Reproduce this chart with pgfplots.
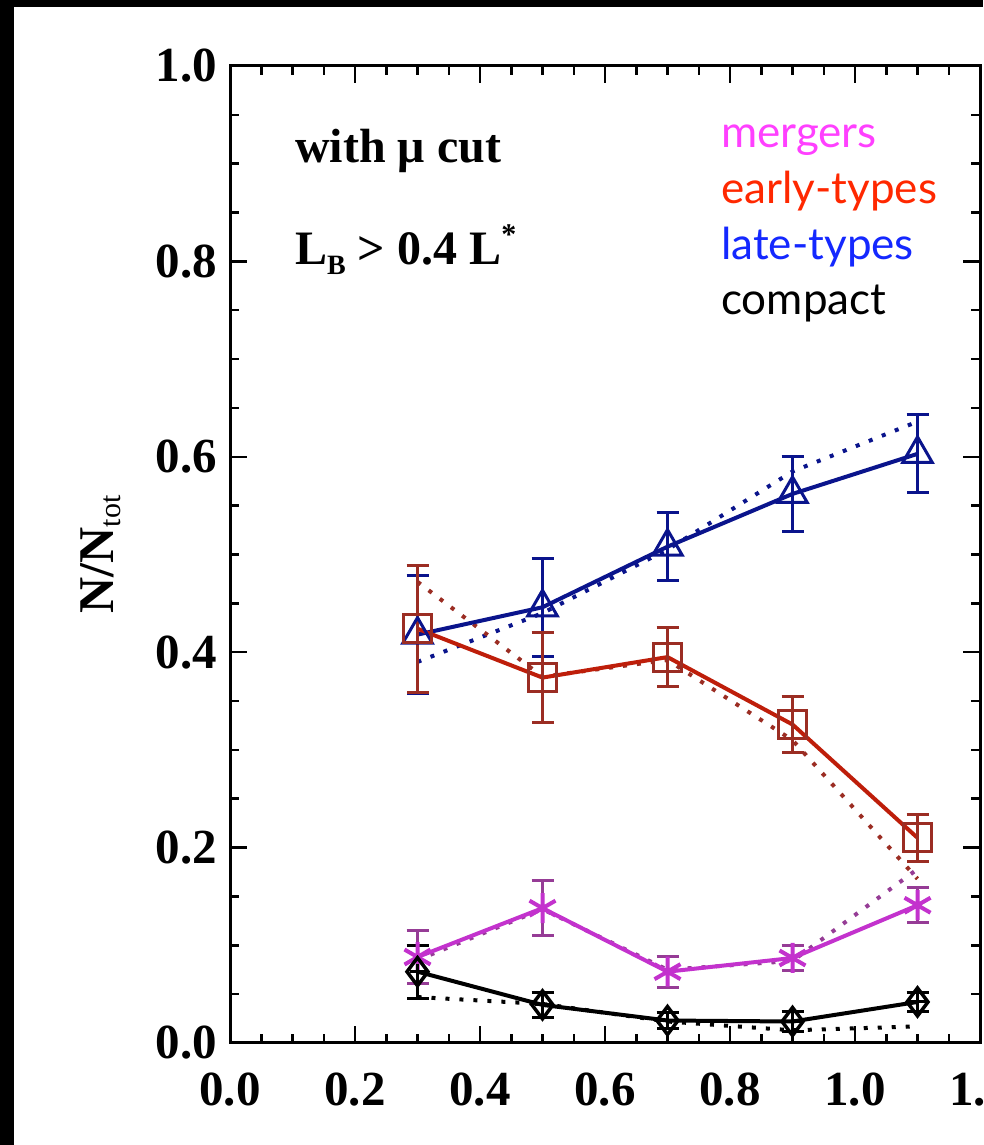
\documentclass[border=0pt]{standalone}
\usepackage{fontspec}
\setmainfont{Liberation Serif}
\newfontfamily\lato{Lato}
\usepackage{pgfplots}
\pgfplotsset{compat=1.18}
\definecolor{navyc}{RGB}{10,20,140}
\definecolor{redl}{RGB}{190,30,10}
\definecolor{redm}{RGB}{155,45,35}
\definecolor{magl}{RGB}{195,50,205}
\definecolor{magm}{RGB}{150,60,150}
\definecolor{legmag}{RGB}{255,64,255}
\definecolor{legred}{RGB}{255,40,0}
\definecolor{legblue}{RGB}{20,40,255}
\begin{document}
\begin{tikzpicture}
\useasboundingbox (0pt,0pt) rectangle (983pt,1145pt);
\fill[black] (0pt,0pt) rectangle (983pt,1145pt);
\fill[white] (14pt,0pt) rectangle (983pt,1138pt);
\begin{axis}[
  at={(230pt,102pt)}, anchor=south west,
  scale only axis, width=750pt, height=977pt,
  xmin=0, xmax=1.2, ymin=0, ymax=1,
  xtick={0,0.2,0.4,0.6,0.8,1.0,1.2},
  xticklabels={0.0,0.2,0.4,0.6,0.8,1.0,1.2},
  ytick={0,0.2,0.4,0.6,0.8,1.0},
  yticklabels={0.0,0.2,0.4,0.6,0.8,1.0},
  minor x tick num=3, minor y tick num=3,
  tick align=inside, major tick length=17pt, minor tick length=9pt,
  every tick/.style={black, line width=2.5pt},
  axis line style={line width=3pt},
  ticklabel style={font=\fontsize{49}{50}\selectfont\bfseries, inner sep=0pt},
  xticklabel style={yshift=-30pt},
  yticklabel style={xshift=-13pt},
  ylabel={\fontsize{50}{50}\selectfont\bfseries N/N\raisebox{-7pt}{\fontsize{30}{30}\selectfont\mdseries tot}},
  ylabel style={at={(axis description cs:-0.173,0.5)}, anchor=center},
  clip=false,
]
% dotted alternative lines
\addplot[navyc, line width=4pt, dash pattern=on 4pt off 10pt] coordinates {(0.3,0.39) (0.5,0.44) (0.7,0.505) (0.9,0.585) (1.1,0.636)};
\addplot[redm, line width=4pt, dash pattern=on 4pt off 10pt] coordinates {(0.3,0.472) (0.5,0.375) (0.7,0.392) (0.9,0.31) (1.1,0.168)};
\addplot[magm, line width=4pt, dash pattern=on 4pt off 10pt] coordinates {(0.3,0.085) (0.5,0.137) (0.7,0.075) (0.9,0.084) (1.1,0.178)};
\addplot[black, line width=4pt, dash pattern=on 4pt off 10pt] coordinates {(0.3,0.047) (0.5,0.04) (0.7,0.022) (0.9,0.013) (1.1,0.017)};
% late-types
\addplot[navyc, line width=4pt, mark=triangle, mark size=17pt, mark options={solid, line width=3pt, navyc},
  error bars/.cd, y dir=both, y explicit,
  error bar style={line width=3pt, navyc}, error mark options={rotate=90, mark size=11pt, line width=3pt, navyc}]
  coordinates {(0.3,0.418) +- (0,0.06) (0.5,0.446) +- (0,0.05) (0.7,0.508) +- (0,0.035) (0.9,0.562) +- (0,0.038) (1.1,0.603) +- (0,0.04)};
% early-types
\addplot[redl, line width=4pt, mark=square, mark size=14pt, mark options={solid, line width=3pt, redm},
  error bars/.cd, y dir=both, y explicit,
  error bar style={line width=3pt, redm}, error mark options={rotate=90, mark size=11pt, line width=3pt, redm}]
  coordinates {(0.3,0.424) +- (0,0.065) (0.5,0.374) +- (0,0.046) (0.7,0.395) +- (0,0.03) (0.9,0.326) +- (0,0.029) (1.1,0.21) +- (0,0.024)};
% mergers
\addplot[magl, line width=4pt, mark=asterisk, mark size=15pt, mark options={solid, line width=4pt, magl},
  error bars/.cd, y dir=both, y explicit,
  error bar style={line width=3pt, magm}, error mark options={rotate=90, mark size=11pt, line width=3pt, magm}]
  coordinates {(0.3,0.088) +- (0,0.027) (0.5,0.138) +- (0,0.028) (0.7,0.073) +- (0,0.016) (0.9,0.087) +- (0,0.013) (1.1,0.141) +- (0,0.018)};
% compact
\addplot[black, line width=4pt, mark=diamond, mark size=14pt, mark options={solid, line width=3.5pt, black},
  error bars/.cd, y dir=both, y explicit,
  error bar style={line width=3pt, black}, error mark options={rotate=90, mark size=11pt, line width=3pt, black}]
  coordinates {(0.3,0.073) +- (0,0.027) (0.5,0.039) +- (0,0.013) (0.7,0.023) +- (0,0.008) (0.9,0.022) +- (0,0.01) (1.1,0.042) +- (0,0.01)};
\addplot[only marks, black, mark=+, mark size=8pt, mark options={line width=3pt}]
  coordinates {(0.3,0.073) (0.5,0.039) (0.7,0.023) (0.9,0.022) (1.1,0.042)};
\end{axis}
\node[anchor=base west, inner sep=0pt, font=\fontsize{48}{50}\selectfont\bfseries] at (295pt,982pt) {with μ cut};
\node[anchor=base west, inner sep=0pt, font=\fontsize{48}{50}\selectfont\bfseries] at (295pt,880pt)
  {L\raisebox{-10pt}{\fontsize{28}{28}\selectfont B} \textgreater{} 0.4 L\raisebox{20pt}{\fontsize{30}{30}\selectfont *}};
\node[anchor=base west, inner sep=0pt, font=\fontsize{44}{46}\selectfont\lato, text=legmag] at (721pt,997pt) {mergers};
\node[anchor=base west, inner sep=0pt, font=\fontsize{44}{46}\selectfont\lato, text=legred] at (721pt,941pt) {early-types};
\node[anchor=base west, inner sep=0pt, font=\fontsize{44}{46}\selectfont\lato, text=legblue] at (721pt,885pt) {late-types};
\node[anchor=base west, inner sep=0pt, font=\fontsize{44}{46}\selectfont\lato, text=black] at (721pt,830pt) {compact};
\end{tikzpicture}
\end{document}
